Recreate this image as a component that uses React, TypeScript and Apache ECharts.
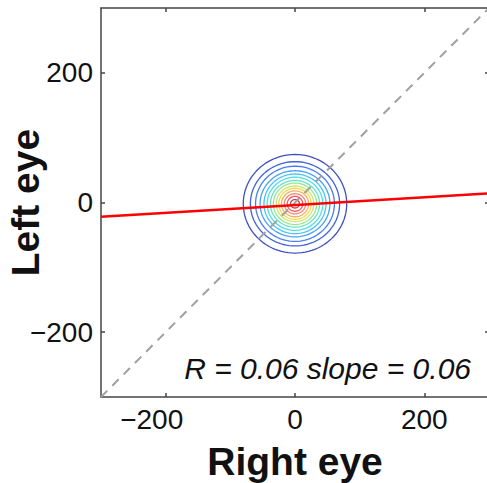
import React, { useEffect, useRef } from "react";
import * as echarts from "echarts";

// Axis range and tick positions (both eyes share the same scale)
const axisMin = -300;
const axisMax = 300;
const tickValues = [-200, 0, 200];

// Fit statistics shown in the corner and used for the regression line
const fitR = 0.06;
const fitSlope = 0.06;
const fitIntercept = -4;

// Density contours: centre, half-widths (rx) and half-heights (ry), outer to inner
const densityCenter = [0, -2];
const contourRx = [80, 69, 61, 54, 48, 43, 38, 33.5, 29, 25, 21, 16.5, 12, 7];
const contourRy = [76, 65, 58, 51, 46, 41, 36, 32, 27.5, 24, 20, 15.5, 11.5, 6.5];
const contourColors = [
  "#4050c4",
  "#4262da",
  "#4a7cf0",
  "#4ca0f6",
  "#48c4f4",
  "#52dee6",
  "#66e6c2",
  "#98e692",
  "#cce670",
  "#f4d85a",
  "#f8b05a",
  "#f88874",
  "#ee5a64",
  "#cc3a40",
];

const FONT = "'Liberation Sans', Arial, Helvetica, sans-serif";
const minus = (v: number) => String(v).replace("-", "\u2212");
// negative x labels sit slightly left of their tick
const xLabel = (v: number) => (v < 0 ? `{neg|${minus(v)}}` : `{pos|${minus(v)}}`);

function ellipsePoints(cx: number, cy: number, rx: number, ry: number) {
  const pts: number[][] = [];
  const n = 96;
  for (let k = 0; k <= n; k++) {
    const t = (k / n) * Math.PI * 2;
    pts.push([cx + rx * Math.cos(t), cy + ry * Math.sin(t)]);
  }
  return pts;
}

export default function App() {
  const ref = useRef<HTMLDivElement>(null);

  useEffect(() => {
    if (!ref.current) return;
    const chart = echarts.init(ref.current, null, { renderer: "svg" });

    const axisLineStyle = { color: "#444", width: 1.5 };
    const frameAxis = (position: string) => ({
      type: "value",
      min: axisMin,
      max: axisMax,
      position,
      axisLine: { show: true, onZero: false, lineStyle: axisLineStyle },
      axisTick: { show: true, inside: true, length: 4, customValues: tickValues, lineStyle: axisLineStyle },
      axisLabel: { show: false },
      splitLine: { show: false },
    });
    const tickFont = { fontFamily: FONT, fontSize: 28, color: "#111" };
    const titleStyle = { fontFamily: FONT, fontSize: 39, fontWeight: "bold", color: "#111" };

    const contourSeries = contourRx.map((rx, i) => ({
      type: "line" as const,
      name: `level ${i + 1}`,
      data: ellipsePoints(densityCenter[0], densityCenter[1], rx, contourRy[i]),
      showSymbol: false,
      symbol: "none",
      lineStyle: { color: contourColors[i], width: 1.3 },
      z: 3,
      silent: true,
    }));

    chart.setOption({
      animation: false,
      grid: { left: 101, top: 8, width: 388, height: 389, show: false, outerBoundsMode: "none", containLabel: false },
      xAxis: [
        {
          ...frameAxis("bottom"),
          name: "Right eye",
          nameLocation: "middle",
          nameGap: 45,
          nameMoveOverlap: false,
          nameTextStyle: titleStyle,
          axisLabel: {
            customValues: tickValues,
            formatter: xLabel,
            margin: 8,
            ...tickFont,
            rich: {
              neg: { ...tickFont, padding: [0, 28, 0, 0] },
              pos: { ...tickFont },
            },
          },
        },
        frameAxis("top"),
      ],
      yAxis: [
        {
          ...frameAxis("left"),
          name: "Left eye",
          nameLocation: "middle",
          nameGap: 56,
          nameMoveOverlap: false,
          nameTextStyle: titleStyle,
          axisLabel: { customValues: tickValues, formatter: minus, margin: 8, ...tickFont },
        },
        frameAxis("right"),
      ],
      series: [
        {
          type: "line",
          name: "identity",
          data: [
            [axisMin, axisMin],
            [axisMax, axisMax],
          ],
          showSymbol: false,
          symbol: "none",
          lineStyle: { color: "#a0a0a0", width: 2, type: [9, 7] },
          z: 4,
          silent: true,
        },
        ...contourSeries,
        {
          type: "line",
          name: "fit",
          data: [
            [axisMin, fitSlope * axisMin + fitIntercept],
            [axisMax, fitSlope * axisMax + fitIntercept],
          ],
          showSymbol: false,
          symbol: "none",
          lineStyle: { color: "#ff0000", width: 2.5 },
          z: 5,
          silent: true,
        },
      ],
      graphic: [
        {
          type: "text",
          x: 471,
          y: 368,
          style: {
            text: `R = ${fitR.toFixed(2)} slope = ${fitSlope.toFixed(2)}`,
            fontFamily: FONT,
            fontSize: 30,
            fontStyle: "italic",
            fill: "#111",
            align: "right",
            verticalAlign: "middle",
          },
          z: 10,
        },
      ],
    });

    return () => chart.dispose();
  }, []);

  return (
    <div
      ref={ref}
      style={{ position: "absolute", left: 0, top: 0, width: 487, height: 483, background: "#fff" }}
    />
  );
}
